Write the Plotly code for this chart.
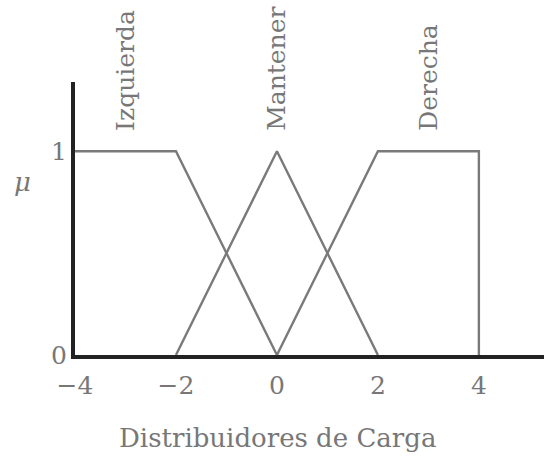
import plotly.graph_objects as go

# Membership functions over the load-distributor domain
izq_x = [-4, -2, 0]
izq_y = [1, 1, 0]
man_x = [-2, 0, 2]
man_y = [0, 1, 0]
der_x = [0, 2, 4, 4]
der_y = [0, 1, 1, 0]

set_names = ["Izquierda", "Mantener", "Derecha"]
set_label_x = [-3, 0, 3]

x_ticks = [-4, -2, 0, 2, 4]
x_ticktext = ["\u22124", "\u22122", "0", "2", "4"]
y_ticks = [0, 1]

serif = "DejaVu Serif, Liberation Serif, serif"
text_grey = "#777777"
line_grey = "#7a7a7a"

fig = go.Figure()
for xs, ys in [(izq_x, izq_y), (man_x, man_y), (der_x, der_y)]:
    fig.add_trace(go.Scatter(x=xs, y=ys, mode="lines",
                             line=dict(color=line_grey, width=2.4),
                             showlegend=False, cliponaxis=False))

for name, lx in zip(set_names, set_label_x):
    fig.add_annotation(x=lx, y=1.09, xref="x", yref="y", text=name,
                       textangle=-90, showarrow=False, yanchor="bottom",
                       font=dict(family=serif, size=25, color=text_grey))

fig.add_annotation(x=0.431, y=-0.365, xref="paper", yref="paper",
                   text="Distribuidores de Carga", showarrow=False,
                   font=dict(family=serif, size=26, color=text_grey))
fig.add_annotation(x=-0.135, y=0.635, xref="paper", yref="paper",
                   text="<i>\u03bc</i>", showarrow=False,
                   font=dict(family=serif, size=26, color=text_grey))

fig.update_layout(
    width=544, height=461,
    margin=dict(l=75, r=0, t=82, b=106),
    plot_bgcolor="white", paper_bgcolor="white",
    xaxis=dict(range=[-4, 5.29], tickvals=x_ticks, ticktext=x_ticktext,
               showgrid=False, zeroline=False, showline=True,
               linecolor="#222", linewidth=4, ticks="",
               ticklabelstandoff=5,
               tickfont=dict(family=serif, size=25, color=text_grey)),
    yaxis=dict(range=[0, 1.34], tickvals=y_ticks,
               showgrid=False, zeroline=False, showline=True,
               linecolor="#222", linewidth=4, ticks="",
               ticklabelstandoff=-1,
               tickfont=dict(family=serif, size=25, color=text_grey)),
)

fig.write_html("out.html")
